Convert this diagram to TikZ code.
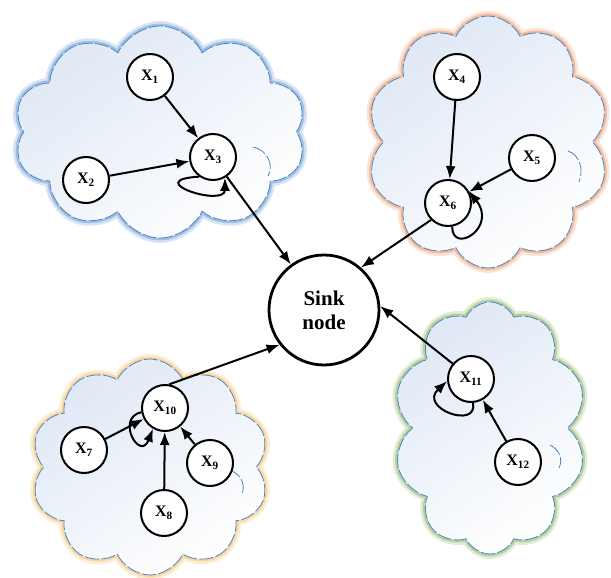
\documentclass[tikz,border=0pt]{standalone}
\usepackage{fontspec}
\setmainfont{Liberation Serif}
\usetikzlibrary{shapes.symbols,arrows.meta}
\definecolor{dashblue}{HTML}{4A86C5}
\definecolor{fillblue}{HTML}{DFE8F5}
\definecolor{glowblue}{HTML}{9DBCE2}
\definecolor{gloworange}{HTML}{F4B896}
\definecolor{glowyellow}{HTML}{F8D49A}
\definecolor{glowgreen}{HTML}{B3CC96}
\newcommand\xn[1]{X\textsubscript{#1}}
\tikzset{
  cloudbox/.style={cloud, cloud puffs=10, cloud puff arc=130, cloud ignores aspect,
     preaction={draw=#1, solid, line width=10pt, opacity=0.4},
     preaction={draw=#1, solid, line width=5pt, opacity=0.9},
     top color=fillblue, bottom color=white, shading angle=35,
     draw=dashblue, line width=0.8pt, dash pattern=on 14pt off 2.5pt},
  innerarc/.style={draw=dashblue, line width=0.8pt, dash pattern=on 14pt off 2.5pt},
  xnode/.style={circle, draw=black, line width=2pt, fill=white, minimum size=46pt,
     inner sep=0pt, font=\bfseries\fontsize{16}{18}\selectfont},
  sinknode/.style={circle, draw=black, line width=2.8pt, fill=white, minimum size=110pt,
     inner sep=0pt, align=center, font=\bfseries\fontsize{21}{24}\selectfont},
  arr/.style={line width=2pt, -{Latex[length=13pt,width=10pt]}},
}
\begin{document}
\begin{tikzpicture}[x=1pt,y=-1pt]
\useasboundingbox (0,0) rectangle (611,578);
% clouds
\node[cloudbox=glowblue, minimum width=292pt, minimum height=212pt] (c1) at (160,132) {};
\node[cloudbox=gloworange, minimum width=242pt, minimum height=252pt] (c2) at (488,142) {};
\node[cloudbox=glowyellow, minimum width=238pt, minimum height=216pt] (c3) at (150,467) {};
\node[cloudbox=glowgreen, minimum width=193pt, minimum height=252pt] (c4) at (490,428) {};
% inner arcs of the clouds
\draw[innerarc] (253,147) .. controls (268,150) and (274,166) .. (268,176);
\draw[innerarc] (568,151) .. controls (580,155) and (584,170) .. (579,182);
\draw[innerarc] (550,445) .. controls (560,450) and (563,460) .. (559,468);
\draw[innerarc] (228,470) .. controls (240,472) and (246,484) .. (242,494);
% nodes
\node[sinknode] (sink) at (324,310) {Sink\\node};
\node[xnode] (x1) at (150,77) {\xn{1}};
\node[xnode] (x2) at (86,180) {\xn{2}};
\node[xnode] (x3) at (213,157) {\xn{3}};
\node[xnode] (x4) at (457,77) {\xn{4}};
\node[xnode] (x5) at (532,158) {\xn{5}};
\node[xnode] (x6) at (448,203) {\xn{6}};
\node[xnode] (x7) at (84,450) {\xn{7}};
\node[xnode] (x8) at (164,513) {\xn{8}};
\node[xnode] (x9) at (210,463) {\xn{9}};
\node[xnode] (x10) at (165,408) {\xn{10}};
\node[xnode] (x11) at (471,379) {\xn{11}};
\node[xnode] (x12) at (518,462) {\xn{12}};
% edges
\draw[arr] (x1) -- (x3);
\draw[arr] (x2) -- (x3);
\draw[arr] (x3.-55) -- (sink.126);
\draw[arr] (x3.235) .. controls (140,180) and (225,208) .. (x3.-60);
\draw[arr] (x4) -- (x6);
\draw[arr] (x5) -- (x6);
\draw[arr] (x6.225) -- (sink.49);
\draw[arr] (x6.-80) .. controls (452,255) and (498,228) .. (x6.30);
\draw[arr] (x7) -- (x10);
\draw[arr] (x8) -- (x10);
\draw[arr] (x9) -- (x10);
\draw[arr] (x10.190) .. controls (115,418) and (140,462) .. (x10.240);
\draw[arr] (x10.80) -- (sink.218);
\draw[arr] (x12) -- (x11);
\draw[arr] (x11.140) -- (sink.4);
\draw[arr] (x11.-85) .. controls (478,430) and (418,408) .. (x11.185);
\end{tikzpicture}
\end{document}
